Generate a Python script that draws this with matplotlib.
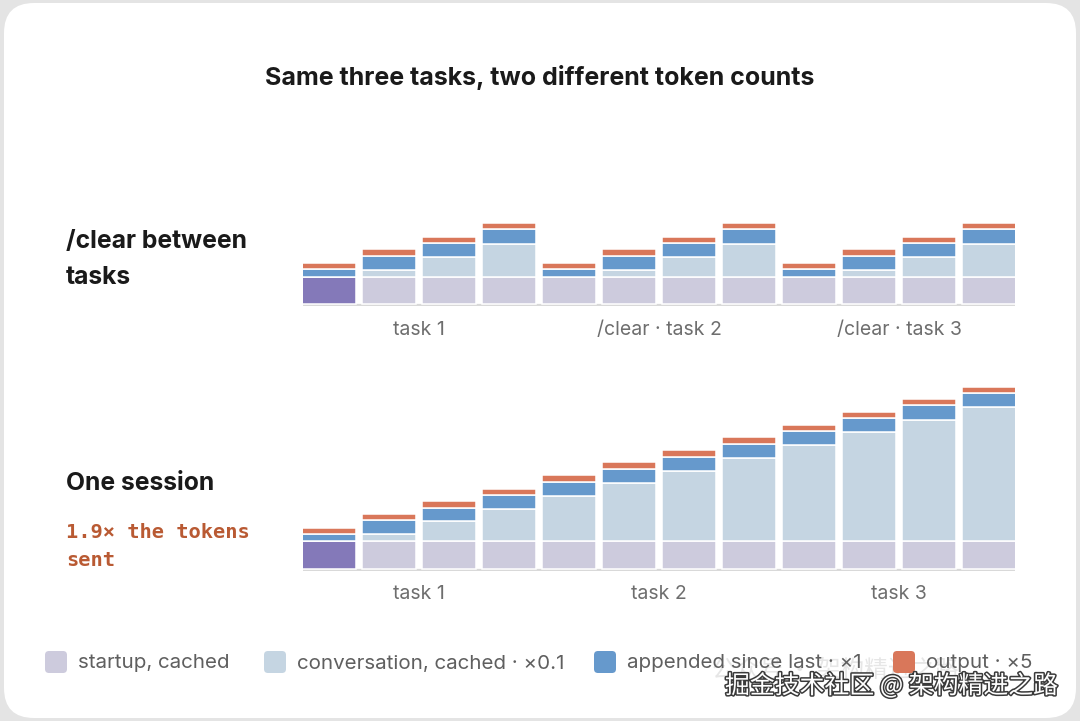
import numpy as np
import matplotlib
matplotlib.use("Agg")
import matplotlib.pyplot as plt
from matplotlib.patches import FancyBboxPatch
from matplotlib.transforms import IdentityTransform
import matplotlib.patheffects as pe

W, H = 1080, 721

# data (bar segment heights, same unit in both panels)
turns = np.arange(12)
startup = [27.3, 27.3, 27.3, 27.3, 27.3, 27.3, 27.3, 27.3, 27.3, 27.3, 27.3, 27.3]

clear_conv = [0, 7, 20, 33, 0, 7, 20, 33, 0, 7, 20, 33]
clear_appended = [7.5, 14, 13.5, 14.5, 7.5, 14, 13.5, 14.5, 7.5, 14, 13.5, 14.5]
clear_output = [6, 6.3, 6.3, 6.3, 6, 6.3, 6.3, 6.3, 6, 6.3, 6.3, 6.3]
clear_first_uncached = [0]

session_conv = [0, 7.3, 20, 32.7, 45.7, 58.3, 70.7, 83.3, 96, 109, 121.7, 134.3]
session_appended = [7.5, 14, 13.5, 13.5, 13.8, 14.2, 13.8, 14.2, 14.2, 14.2, 14.2, 14]
session_output = [6, 6.2, 6.3, 6.3, 6.3, 6.3, 6.3, 6.3, 6.3, 6.3, 6.3, 6.3]
session_first_uncached = [0]

group_pos = [1.5, 5.5, 9.5]
clear_groups = ["task 1", "/clear · task 2", "/clear · task 3"]
session_groups = ["task 1", "task 2", "task 3"]

legend_labels = ["startup, cached", "conversation, cached · ×0.1",
                 "appended since last · ×1", "output · ×5"]

c_startup = "#cdcbdd"
c_uncached = "#8479b9"
c_conv = "#c5d5e2"
c_append = "#6699cc"
c_output = "#d9775a"
legend_colors = [c_startup, c_conv, c_append, c_output]

plt.rcParams["font.family"] = ["Inter", "DejaVu Sans"]

fig = plt.figure(figsize=(W / 100, H / 100), dpi=100)
fig.patch.set_facecolor("#e4e4e4")

# white card
card = FancyBboxPatch((4, 3), W - 8, H - 6, boxstyle="round,pad=0,rounding_size=30",
                      transform=IdentityTransform(), facecolor="white", edgecolor="none", zorder=-5)
fig.patches.append(card)


def fx(x):
    return x / W


def fy(y):
    return 1 - y / H


def stacked(ax, conv, appended, output, uncached_idx):
    cols = [c_uncached if i in uncached_idx else c_startup for i in turns]
    kw = dict(width=0.885, edgecolor="white", linewidth=1.1, zorder=2)
    ax.bar(turns, startup, color=cols, **kw)
    b = np.array(startup, dtype=float)
    ax.bar(turns, conv, bottom=b, color=c_conv, **kw)
    b = b + np.array(conv)
    ax.bar(turns, appended, bottom=b, color=c_append, **kw)
    b = b + np.array(appended)
    ax.bar(turns, output, bottom=b, color=c_output, **kw)
    ax.axhline(-1.0, color="#d9d9d9", lw=1.6, zorder=1)
    ax.set_xlim(-0.433, 11.433)
    for s in ax.spines.values():
        s.set_visible(False)
    ax.set_yticks([])
    ax.patch.set_alpha(0)


left, right = 303, 1015
# top panel: baseline at y=304, 100 px tall
ax1 = fig.add_axes([fx(left), fy(304 + 2), (right - left) / W, 100 / H])
stacked(ax1, clear_conv, clear_appended, clear_output, clear_first_uncached)
ax1.set_ylim(-2, 98)
ax1.set_xticks(group_pos, clear_groups)

# bottom panel: baseline at y=568.5, 200 px tall
ax2 = fig.add_axes([fx(left), fy(568.5 + 2), (right - left) / W, 200 / H])
stacked(ax2, session_conv, session_appended, session_output, session_first_uncached)
ax2.set_ylim(-2, 198)
ax2.set_xticks(group_pos, session_groups)

for ax in (ax1, ax2):
    ax.tick_params(axis="x", length=0, pad=10.5, labelsize=14, labelcolor="#6e6e6e")

# title and row labels
fig.text(0.5, fy(77), "Same three tasks, two different token counts", ha="center", va="center",
         fontsize=18, fontweight="bold", color="#1a1a1a")
fig.text(fx(66), fy(241), "/clear between", ha="left", va="center",
         fontsize=17.8, fontweight="bold", color="#1a1a1a")
fig.text(fx(66), fy(277), "tasks", ha="left", va="center",
         fontsize=17.8, fontweight="bold", color="#1a1a1a")
fig.text(fx(66), fy(484), "One session", ha="left", va="center",
         fontsize=17.8, fontweight="bold", color="#1a1a1a")
fig.text(fx(66), fy(532), "1.9× the tokens", ha="left", va="center", family="DejaVu Sans Mono",
         fontsize=14.7, fontweight="bold", color="#b95a33")
fig.text(fx(66), fy(560), "sent", ha="left", va="center", family="DejaVu Sans Mono",
         fontsize=14.7, fontweight="bold", color="#b95a33")

# faint watermark behind legend
fig.text(fx(712), fy(670), "公众号 · 架构精进之路", ha="left", va="center",
         family=["Noto Sans CJK SC", "DejaVu Sans"], fontsize=17, color="#e6e6e6", zorder=1)

# legend
leg_x = [45, 264, 594, 893]
for x, col, lab in zip(leg_x, legend_colors, legend_labels):
    sq = FancyBboxPatch((x, H - 662 - 11), 22, 22, boxstyle="round,pad=0,rounding_size=4",
                        transform=IdentityTransform(), facecolor=col, edgecolor="none", zorder=3)
    fig.patches.append(sq)
    fig.text(fx(x + 33), fy(663.5), lab, ha="left", va="center", fontsize=14.8,
             color="#5f5f5f", zorder=4)

# site watermark
fig.text(fx(725), fy(686), "掘金技术社区 @ 架构精进之路", ha="left", va="center",
         family=["Noto Sans CJK SC", "DejaVu Sans"], fontsize=17.9, color="white", zorder=5,
         path_effects=[pe.withStroke(linewidth=2.2, foreground="#3a3a3a")])

fig.savefig("out.png", dpi=100, facecolor=fig.get_facecolor())
